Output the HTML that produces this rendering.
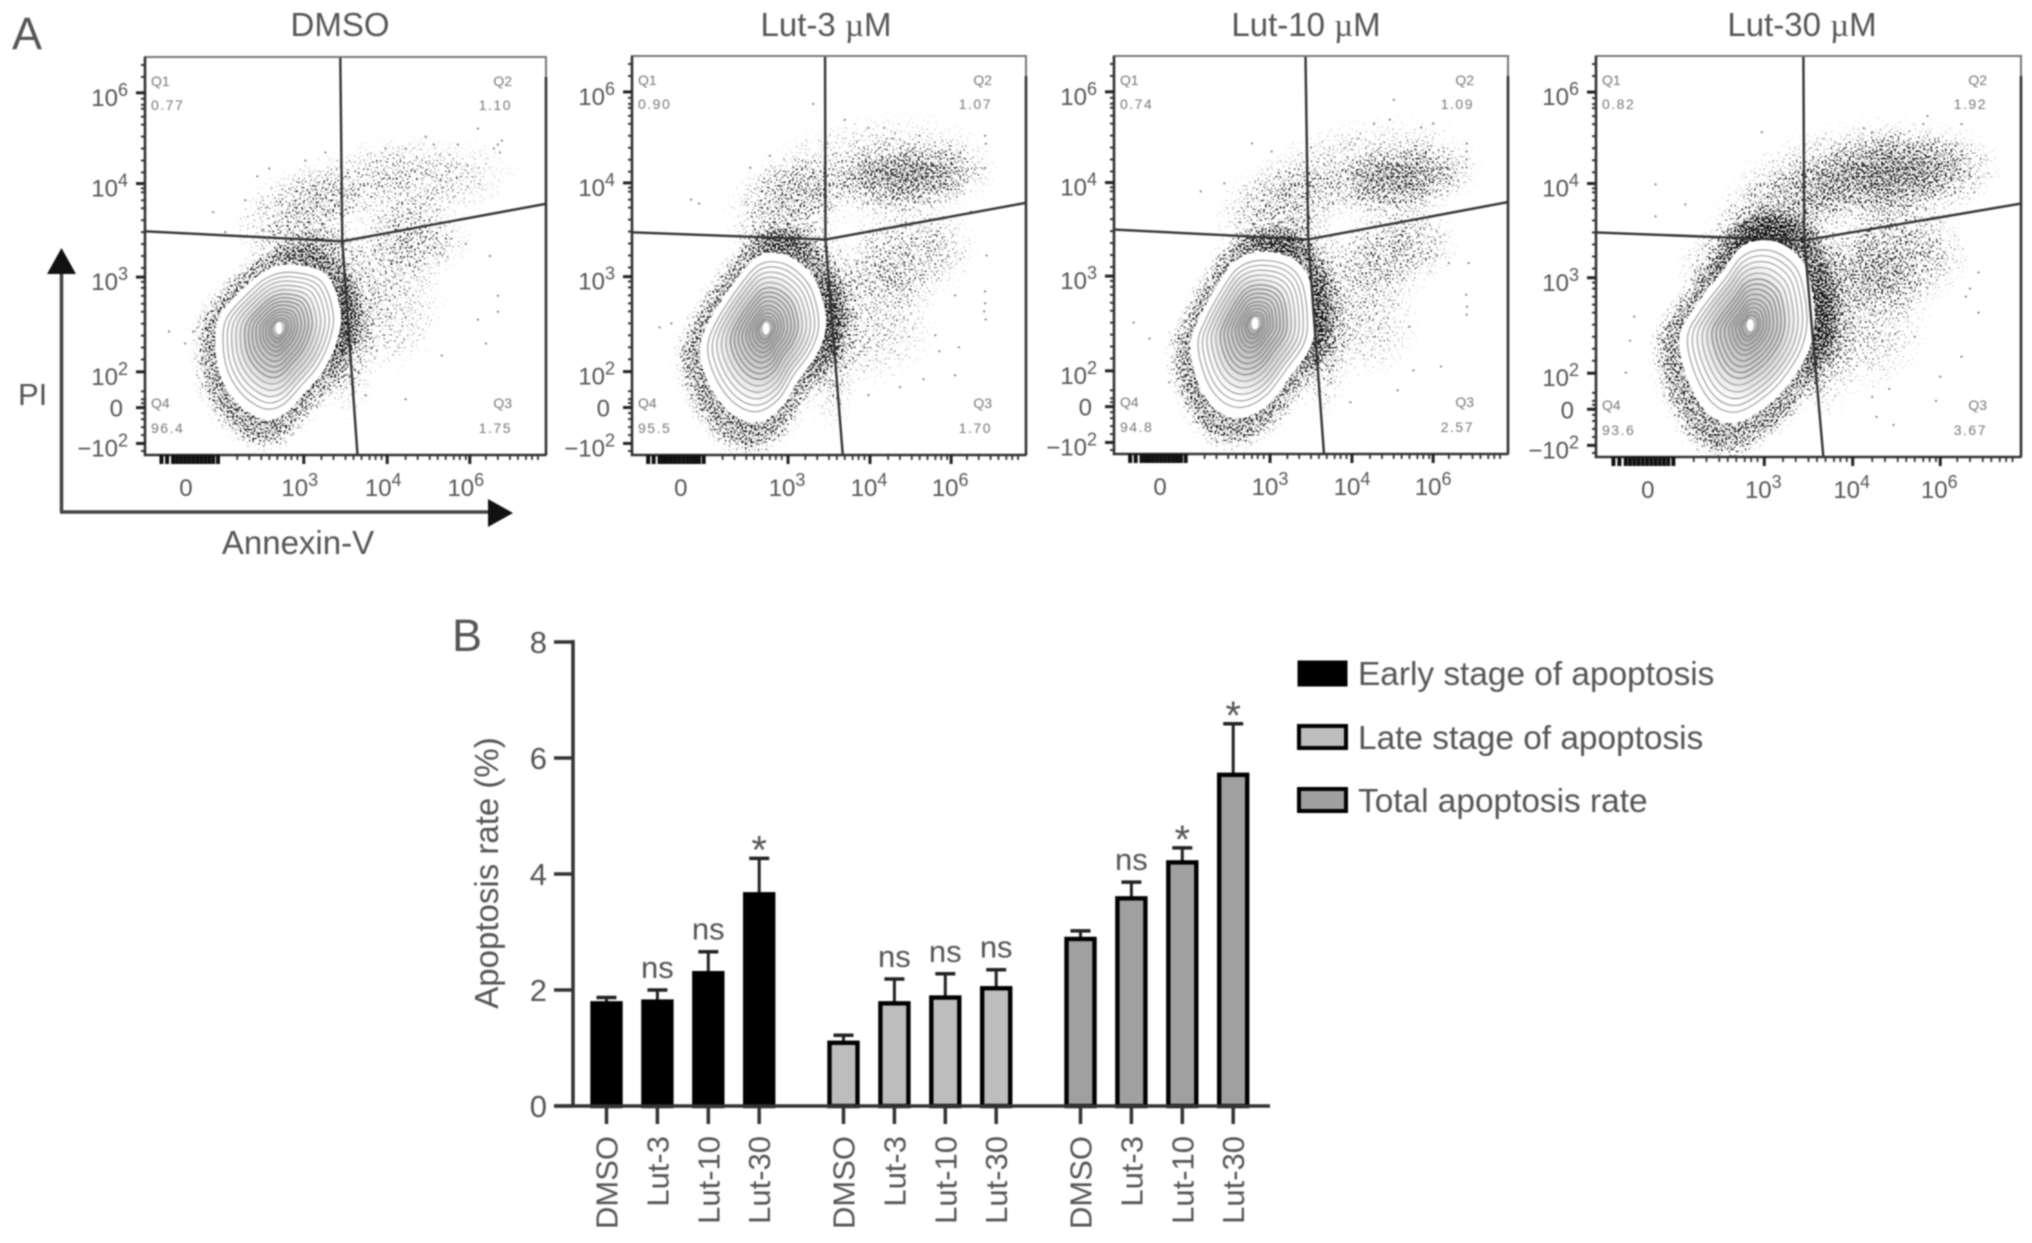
<!DOCTYPE html>
<html lang="en">
<head>
<meta charset="utf-8">
<title>Apoptosis flow cytometry and rate chart</title>
<style>
  html, body { margin: 0; padding: 0; background: #fff; }
  body { width: 2032px; height: 1243px; overflow: hidden; }
  svg { display: block; font-family: "Liberation Sans", sans-serif; filter: blur(0.8px); }
  text { fill: #555; }
</style>
</head>
<body>
<svg id="figure" xmlns="http://www.w3.org/2000/svg" width="2032" height="1243" viewBox="0 0 2032 1243">
  <defs>
    <filter id="speckle" filterUnits="userSpaceOnUse" x="0" y="0" width="2032" height="520" color-interpolation-filters="sRGB">
      <feGaussianBlur in="SourceAlpha" stdDeviation="6" result="dens"/>
      <feTurbulence type="fractalNoise" baseFrequency="0.55" numOctaves="1" seed="7" result="noise"/>
      <feColorMatrix in="noise" type="matrix" values="0 0 0 0 0  0 0 0 0 0  0 0 0 0 0  2.6 0 0 0 -0.8" result="noiseAlpha"/>
      <feComposite in="noiseAlpha" in2="dens" operator="arithmetic" k1="0" k2="1" k3="1" k4="-1" result="sum"/>
      <feComponentTransfer in="sum"><feFuncA type="linear" slope="3.5"/></feComponentTransfer>
    </filter>
    <radialGradient id="cloudFade">
      <stop offset="0" stop-color="#000" stop-opacity="1"/>
      <stop offset="0.55" stop-color="#000" stop-opacity="0.7"/>
      <stop offset="1" stop-color="#000" stop-opacity="0"/>
    </radialGradient>
    <radialGradient id="coreShade">
      <stop offset="0" stop-color="#666" stop-opacity="0.55"/>
      <stop offset="0.6" stop-color="#777" stop-opacity="0.28"/>
      <stop offset="1" stop-color="#888" stop-opacity="0"/>
    </radialGradient>
  </defs>
  <rect width="2032" height="1243" fill="#fff"/>

  <text x="12" y="49" font-size="45">A</text>
  <text x="452" y="651" font-size="45">B</text>

  <text x="340" y="36" font-size="33" text-anchor="middle">DMSO</text>
  <text x="826" y="36" font-size="33" text-anchor="middle">Lut-3 <tspan font-family="'Liberation Serif', serif">µ</tspan>M</text>
  <text x="1306" y="36" font-size="33" text-anchor="middle">Lut-10 <tspan font-family="'Liberation Serif', serif">µ</tspan>M</text>
  <text x="1802" y="36" font-size="33" text-anchor="middle">Lut-30 <tspan font-family="'Liberation Serif', serif">µ</tspan>M</text>

  <g id="flow-panels"></g>

  <g>
    <path d="M61.5 512V272" stroke="#444" stroke-width="3.5" fill="none"/>
    <path d="M60 512H490" stroke="#444" stroke-width="3.5" fill="none"/>
    <path d="M61.5 248L76 274H47Z" fill="#111"/>
    <path d="M513 513L488 499V527Z" fill="#111"/>
    <text x="18" y="405" font-size="31">PI</text>
    <text x="298" y="554" font-size="33" text-anchor="middle">Annexin-V</text>
  </g>

  <g id="bar-chart">
    <text transform="translate(498,873) rotate(-90)" font-size="33" text-anchor="middle">Apoptosis rate (%)</text>
  </g>

  <g>
    <g>
      <rect x="1299" y="662" width="47" height="23" fill="#000" stroke="#000" stroke-width="3"/>
      <text x="1358" y="685" font-size="33.4">Early stage of apoptosis</text>
    </g>
    <g>
      <rect x="1299" y="726" width="47" height="22" fill="#bdbdbd" stroke="#000" stroke-width="4"/>
      <text x="1358" y="749" font-size="33.4">Late stage of apoptosis</text>
    </g>
    <g>
      <rect x="1299" y="789" width="47" height="22" fill="#a0a0a0" stroke="#000" stroke-width="4"/>
      <text x="1358" y="812" font-size="33.4">Total apoptosis rate</text>
    </g>
  </g>
</svg>

<script>
/* ---------- Bar chart data ---------- */
const barCategories = ['DMSO', 'Lut-3', 'Lut-10', 'Lut-30'];
const barSeriesNames = ['early', 'late', 'total'];
const earlyMeans = [1.77, 1.80, 2.29, 3.65];
const earlyErrorTops = [1.87, 2.00, 2.66, 4.27];
const earlySignificance = ['', 'ns', 'ns', '*'];
const lateMeans = [1.09, 1.77, 1.87, 2.03];
const lateErrorTops = [1.22, 2.19, 2.28, 2.35];
const lateSignificance = ['', 'ns', 'ns', 'ns'];
const totalMeans = [2.88, 3.58, 4.20, 5.71];
const totalErrorTops = [3.02, 3.86, 4.45, 6.59];
const totalSignificance = ['', 'ns', '*', '*'];
const rateTicks = [0, 2, 4, 6, 8];

/* ---------- Flow cytometry data, in axis channels (0-100 along each axis) ---------- */
const yTickChannels = [2.9, 11.9, 20.9, 44.7, 68.2, 91];
const yTickBases = ['\u221210', '0', '10', '10', '10', '10'];
const yTickExps = ['2', '', '2', '3', '4', '6'];
const yMinorChannels = [1, 5, 7, 9, 10.5, 13, 14, 16, 24, 27, 30, 33, 36, 38, 40, 42, 43.5, 47, 50, 53, 56, 59, 62, 64, 66, 67, 71, 74, 77, 80, 83, 85, 87, 88, 89.5, 95, 98];
const xTickChannels = [39.6, 60.4, 81];
const xTickBases = ['10', '10', '10'];
const xTickExps = ['3', '4', '6'];
const xZeroChannels = [10.2, 12.4, 11.7, 12.2];
const xMinorChannels = [4.1, 5.5, 7, 8, 9, 10, 11, 12, 13, 14, 15, 16, 17, 18.2, 23, 26, 29, 31, 33, 35, 36.5, 38, 44, 47, 50, 52, 54, 56, 57.5, 59, 65, 68, 71, 73, 75, 77, 78.5, 80, 85, 88, 91, 93, 95, 96.5, 98];
const contourLevels = [0.9, 0.83, 0.76, 0.69, 0.62, 0.55, 0.49, 0.43, 0.37, 0.31, 0.26, 0.21, 0.16, 0.12];

const q1Values = ['0.77', '0.90', '0.74', '0.82'];
const q2Values = ['1.10', '1.07', '1.09', '1.92'];
const q3Values = ['1.75', '1.70', '2.57', '3.67'];
const q4Values = ['96.4', '95.5', '94.8', '93.6'];

const gateTopX = [48.7, 49, 48.6, 48.8];
const gateCenterX = [49.2, 49.1, 49.3, 49];
const gateCenterY = [53.7, 54, 53.9, 54];
const gateBottomX = [53, 53.5, 53.3, 53.5];
const gateLeftY = [56.2, 55.8, 56.4, 56];
const gateRightY = [63.1, 63.2, 63.3, 63.2];

const outlineDmso = [[37.4,47.4],[45.1,44.9],[48.4,36.1],[47.5,28.7],[44.1,21.3],[39.4,15.7],[34.6,10.6],[29.8,9.3],[24.1,12.5],[19.8,18.5],[18,25.9],[18.8,34.3],[25,41.7],[30.8,46.3]];
const outlineLut3 = [[35.9,50.3],[41,48.8],[46.1,43.8],[48.6,36.3],[48.6,30.5],[46.1,24.6],[41.8,18.8],[37.6,12.1],[31.7,8.6],[25.8,10.4],[20.7,16.3],[17.8,23.8],[18.2,29.6],[21.6,36.3],[27.5,44.7],[31.7,49.2]];
const outlineLut10 = [[37,50.4],[44.6,49.1],[48.9,44.4],[50.5,35],[49.7,27.5],[44.6,20],[38.7,12.6],[32,9.4],[26,11.5],[21.8,17.8],[19.7,27],[21.8,33.7],[26.9,42.9],[31.1,48.3]];
const outlineLut30 = [[38.7,53.7],[44.3,52.4],[49.1,47],[51.1,35.5],[50,27.5],[46.5,20.5],[41.1,14],[33.1,8.9],[26.7,11],[21.9,19.3],[19.9,29.3],[23.1,36.5],[29.9,45.9],[33.9,51.6]];
const contourCenters = [[33.4,31.9],[34,31.7],[35.8,32.8],[36.3,32.9]];
const haloDensities = [0.5, 0.5, 0.5, 0.5];
const haloScales = [1.3, 1.32, 1.3, 1.34];

/* density regions: centre x, centre y, radius x, radius y, tilt in degrees, peak density */
const cloudsDmso = [[64,69,30,11,-4,.32],[38,60,17,12,-20,.36],[67,54,15,10,0,.38],[59,38,16,18,-15,.28],[51,30,7,22,0,.38],[44,52,12,6,0,.38]];
const cloudsLut3 = [[71,69.7,22,9,-4,.46],[62,72,32,14,-5,.26],[39,63,17,12,-25,.38],[70.6,50.5,18,13,-10,.34],[60,35,18,19,-20,.28],[51,30,7,26,0,.38],[42,53,12,6,0,.38]];
const cloudsLut10 = [[73,69,20,9,-6,.44],[65,72,30,13,-6,.26],[42,62,18,12,-20,.36],[72,52,16,12,-10,.36],[62,37,16,20,-20,.28],[53,32,7,25,0,.38],[44,53,12,6,0,.38]];
const cloudsLut30 = [[70,71,26,11,-5,.44],[64,70,33,15,-5,.3],[43,61,18,12,-20,.36],[71,50,18,14,-10,.42],[61,36,18,21,-20,.32],[54,33,7,26,0,.36],[45,54,12,6,0,.34],[32,52,15,8,-25,.3]];

const outliersDmso = [[88,78],[89,79],[88.5,76],[87,77],[83,82],[78,78],[72,78],[65,77],[60,77],[45,76],[28,70],[25,64],[17,61],[12,31],[10,28],[6,31],[20,56],[88,36],[88,40],[83,34],[85,28],[74,25],[65,14],[55,15],[52,17],[86,50],[80,53],[31,72],[70,80],[40,74]];
const outliersLut3 = [[46,88],[89.6,80],[89.8,78],[89.6,72],[89.6,41],[89.6,38],[89.4,36],[89.8,34],[15,64],[17,63],[35,75],[30,72],[13,27],[10,33],[7,32],[78,26],[83,27],[74,19],[68,17],[60,15],[54,22],[86,61],[82,40],[73,80],[60,82],[54,84],[64,82],[90,50],[77,30],[82,20]];
const outliersLut10 = [[71,89],[50,77],[89.5,78],[89.5,76],[89.5,74],[89.5,72],[89.5,35],[89.6,37],[89.4,40],[5,33],[9,29],[22,66],[28,68],[35,78],[40,76],[63,28],[75,32],[76,21],[60,13],[55,18],[82,50],[85,48],[66,83],[70,84],[78,82],[81,83],[90,48],[72,16],[83,22],[14,18]];
const outliersLut30 = [[39,81],[63,82],[65,81],[78,85],[86,83],[77,83],[14,68],[21,63],[14,60],[23,55],[9,35],[7,21],[88,72],[89,66],[88,70],[88,42],[90,36],[80,14],[70,8],[69,17],[86,25],[81,20],[65,15],[53,17],[66,10],[87,40],[90,46],[75,30],[15,24],[8,29]];

const panelLeft = [145, 632, 1114, 1596];
const panelRight = [546, 1026, 1508, 2021];
const panelTop = [57, 56, 56, 56];
const panelBottom = [455, 455, 454, 457];
const panelLabelShift = [-4, -1, 0, -1];
const panelOutlines = [outlineDmso, outlineLut3, outlineLut10, outlineLut30];
const panelClouds = [cloudsDmso, cloudsLut3, cloudsLut10, cloudsLut30];
const panelOutliers = [outliersDmso, outliersLut3, outliersLut10, outliersLut30];

/* ---------- Helpers ---------- */
const SVGNS = 'http://www.w3.org/2000/svg';
function mk(tag, attrs, parent) {
  const el = document.createElementNS(SVGNS, tag);
  for (const k in attrs) el.setAttribute(k, attrs[k]);
  parent.appendChild(el);
  return el;
}
function closedCurve(pts) {
  const n = pts.length;
  let d = 'M' + pts[0][0].toFixed(1) + ' ' + pts[0][1].toFixed(1);
  for (let i = 0; i < n; i++) {
    const p0 = pts[(i - 1 + n) % n], p1 = pts[i], p2 = pts[(i + 1) % n], p3 = pts[(i + 2) % n];
    const c1x = p1[0] + (p2[0] - p0[0]) / 6, c1y = p1[1] + (p2[1] - p0[1]) / 6;
    const c2x = p2[0] - (p3[0] - p1[0]) / 6, c2y = p2[1] - (p3[1] - p1[1]) / 6;
    d += 'C' + c1x.toFixed(1) + ' ' + c1y.toFixed(1) + ' ' + c2x.toFixed(1) + ' ' + c2y.toFixed(1) + ' ' + p2[0].toFixed(1) + ' ' + p2[1].toFixed(1);
  }
  return d + 'Z';
}
function powerLabel(parent, x, y, base, exp, anchor) {
  const t = mk('text', {x: x, y: y, 'font-size': 24, 'text-anchor': anchor}, parent);
  const b = mk('tspan', {}, t);
  b.textContent = base;
  if (exp) {
    const s = mk('tspan', {dy: -10, 'font-size': 18}, t);
    s.textContent = exp;
  }
  return t;
}

/* ---------- Flow panels ---------- */
const flowRoot = document.getElementById('flow-panels');
const defsEl = document.querySelector('#figure defs');

panelLeft.forEach(function (left, p) {
  const right = panelRight[p], top = panelTop[p], bottom = panelBottom[p];
  const xScale = function (c) { return left + c / 100 * (right - left); };
  const yScale = function (c) { return bottom - c / 100 * (bottom - top); };
  const toPx = function (pt) { return [xScale(pt[0]), yScale(pt[1])]; };

  const g = mk('g', {}, flowRoot);
  
  

  const clip = mk('clipPath', {id: 'panel-clip-' + p}, defsEl);
  mk('rect', {x: left, y: top, width: right - left, height: bottom - top}, clip);

  /* event density (dense ring and clouds) */
  const clipped = mk('g', {'clip-path': 'url(#panel-clip-' + p + ')'}, g);
  
  
  const density = mk('g', {filter: 'url(#speckle)'}, clipped);

  const outline = panelOutlines[p].map(toPx);
  const center = toPx(contourCenters[p]);
  const scaled = function (k) {
    return outline.map(function (q) { return [center[0] + (q[0] - center[0]) * k, center[1] + (q[1] - center[1]) * k]; });
  };
  const halo = mk('path', {d: closedCurve(scaled(haloScales[p])), fill: '#000', 'fill-opacity': haloDensities[p]}, density);
  
  

  panelClouds[p].forEach(function (c) {
    const cx = xScale(c[0]), cy = yScale(c[1]);
    const cloud = mk('ellipse', {cx: cx, cy: cy, rx: c[2] / 100 * (right - left), ry: c[3] / 100 * (bottom - top), fill: 'url(#cloudFade)', 'fill-opacity': c[5], transform: 'rotate(' + c[4] + ' ' + cx + ' ' + cy + ')'}, density);
    
    
  });

  /* individually readable events */
  panelOutliers[p].forEach(function (pt) {
    const dot = mk('circle', {cx: xScale(pt[0]), cy: yScale(pt[1]), r: 1, fill: '#666'}, clipped);
    
    
  });

  /* contour population */
  const blob = mk('path', {d: closedCurve(outline), fill: '#fff', stroke: '#fff', 'stroke-width': 3}, clipped);
  
  

  const core = mk('path', {d: closedCurve(scaled(0.82)), fill: 'url(#coreShade)'}, clipped);
  
  

  contourLevels.forEach(function (lv, i) {
    const ring = mk('path', {d: closedCurve(scaled(lv)), fill: 'none', stroke: i < 5 ? '#a0a0a0' : '#8a8a8a', 'stroke-width': i < 5 ? 1.2 : 1.4}, clipped);
    
    
  });
  const peak = mk('ellipse', {cx: center[0], cy: center[1], rx: 3.5, ry: 6, fill: '#fff'}, clipped);
  
  

  /* quadrant gates */
  const gateH = mk('path', {d: 'M' + left + ' ' + yScale(gateLeftY[p]) + 'L' + xScale(gateCenterX[p]) + ' ' + yScale(gateCenterY[p]) + 'L' + right + ' ' + yScale(gateRightY[p]), fill: 'none', stroke: '#333', 'stroke-width': 2.4}, g);
  
  
  const gateV = mk('path', {d: 'M' + xScale(gateTopX[p]) + ' ' + top + 'L' + xScale(gateCenterX[p]) + ' ' + yScale(gateCenterY[p]) + 'L' + xScale(gateBottomX[p]) + ' ' + bottom, fill: 'none', stroke: '#333', 'stroke-width': 2.4}, g);
  
  

  /* frame */
  const frame = mk('rect', {x: left, y: top, width: right - left, height: bottom - top, fill: 'none', stroke: '#777', 'stroke-width': 2}, g);
  
  
  const frameAxes = mk('path', {d: 'M' + left + ' ' + top + 'V' + bottom + 'H' + right + 'M' + right + ' ' + (top + 20) + 'V' + bottom, fill: 'none', stroke: '#333', 'stroke-width': 2.6}, g);
  
  

  /* y ticks and labels */
  yMinorChannels.forEach(function (c) {
    const tick = mk('line', {x1: left - 4, x2: left, y1: yScale(c), y2: yScale(c), stroke: '#333', 'stroke-width': 2}, g);
    
    
  });
  yTickChannels.forEach(function (c, i) {
    const tick = mk('line', {x1: left - 9, x2: left, y1: yScale(c), y2: yScale(c), stroke: '#222', 'stroke-width': 3}, g);
    
    
    const off = yTickExps[i] ? 13 : 9;
    const lx = yTickExps[i] ? left - 17 : left - 22;
    const lab = powerLabel(g, lx, yScale(c) + off, yTickBases[i], yTickExps[i], 'end');
    
    
  });

  /* x ticks and labels */
  xMinorChannels.forEach(function (c) {
    const tick = mk('line', {x1: xScale(c), x2: xScale(c), y1: bottom, y2: bottom + (c < 19 ? 9 : 5), stroke: c < 19 ? '#111' : '#333', 'stroke-width': c < 19 ? 4 : 1.8}, g);
    
    
  });
  xTickChannels.forEach(function (c, i) {
    const tick = mk('line', {x1: xScale(c), x2: xScale(c), y1: bottom, y2: bottom + 9, stroke: '#222', 'stroke-width': 3}, g);
    
    
    const lab = powerLabel(g, xScale(c) + panelLabelShift[p], bottom + 41, xTickBases[i], xTickExps[i], 'middle');
    
    
  });
  const zeroLabel = powerLabel(g, xScale(xZeroChannels[p]), bottom + 41, '0', '', 'middle');
  
  

  /* quadrant labels */
  const small = function (x, y, txt, anchor, spacing) {
    const t = mk('text', {x: x, y: y, 'font-size': 14, 'text-anchor': anchor, 'letter-spacing': spacing, style: 'fill:#777'}, g);
    t.textContent = txt;
    
    
  };
  small(left + 6, top + 29, 'Q1', 'start', 0);
  small(left + 6, top + 53, q1Values[p], 'start', 1.5);
  small(right - 34, top + 29, 'Q2', 'end', 0);
  small(right - 34, top + 53, q2Values[p], 'end', 1.5);
  small(left + 6, bottom - 47, 'Q4', 'start', 0);
  small(left + 6, bottom - 22, q4Values[p], 'start', 1.5);
  small(right - 34, bottom - 47, 'Q3', 'end', 0);
  small(right - 34, bottom - 22, q3Values[p], 'end', 1.5);
});

/* ---------- Bar chart ---------- */
const chart = document.getElementById('bar-chart');
const axisX = 573, axisRight = 1270, zeroY = 1106, eightY = 642;
const rateScale = function (v) { return zeroY - v * (zeroY - eightY) / 8; };
const firstBarX = 606.5, catStep = 50.9, groupStep = 237;
const barX = function (g, c) { return firstBarX + g * groupStep + c * catStep; };
const barW = 28;
const seriesMeans = [earlyMeans, lateMeans, totalMeans];
const seriesErrors = [earlyErrorTops, lateErrorTops, totalErrorTops];
const seriesSig = [earlySignificance, lateSignificance, totalSignificance];
const seriesFill = ['#000', '#bdbdbd', '#a0a0a0'];

const yAxisLine = mk('line', {x1: axisX, x2: axisX, y1: eightY - 2, y2: zeroY, stroke: '#333', 'stroke-width': 3.5}, chart);



rateTicks.forEach(function (v) {
  const tick = mk('line', {x1: axisX - 19, x2: axisX, y1: rateScale(v), y2: rateScale(v), stroke: '#333', 'stroke-width': 3.5}, chart);
  
  
  const lab = mk('text', {x: axisX - 26, y: rateScale(v) + 11, 'font-size': 31, 'text-anchor': 'end'}, chart);
  lab.textContent = String(v);
  
  
});

barSeriesNames.forEach(function (name, g) {
  barCategories.forEach(function (cat, c) {
    const x = barX(g, c), mean = seriesMeans[g][c], errTop = seriesErrors[g][c], sig = seriesSig[g][c];

    const err = mk('line', {x1: x, x2: x, y1: rateScale(mean), y2: rateScale(errTop), stroke: '#222', 'stroke-width': 3}, chart);
    
    
    const cap = mk('line', {x1: x - 10, x2: x + 10, y1: rateScale(errTop), y2: rateScale(errTop), stroke: '#222', 'stroke-width': 3.5}, chart);
    
    

    const bar = mk('rect', {x: x - barW / 2, y: rateScale(mean), width: barW, height: zeroY - rateScale(mean), fill: seriesFill[g], stroke: '#000', 'stroke-width': 4.4}, chart);
    
    

    const tick = mk('line', {x1: x, x2: x, y1: zeroY, y2: zeroY + 18, stroke: '#333', 'stroke-width': 3.5}, chart);
    
    

    const lab = mk('text', {transform: 'translate(' + (x + 11) + ',' + (zeroY + 30) + ') rotate(-90)', 'font-size': 31, 'text-anchor': 'end'}, chart);
    lab.textContent = cat;
    
    

    if (sig) {
      const sigY = rateScale(errTop) + (sig === '*' ? 5 : -12);
      const sigEl = mk('text', {x: x, y: sigY, 'font-size': sig === '*' ? 40 : 31, 'text-anchor': 'middle'}, chart);
      sigEl.textContent = sig;
      
      
    }
  });
});

const xAxisLine = mk('line', {x1: axisX - 19, x2: axisRight, y1: zeroY, y2: zeroY, stroke: '#333', 'stroke-width': 3.5}, chart);


</script>
</body>
</html>
